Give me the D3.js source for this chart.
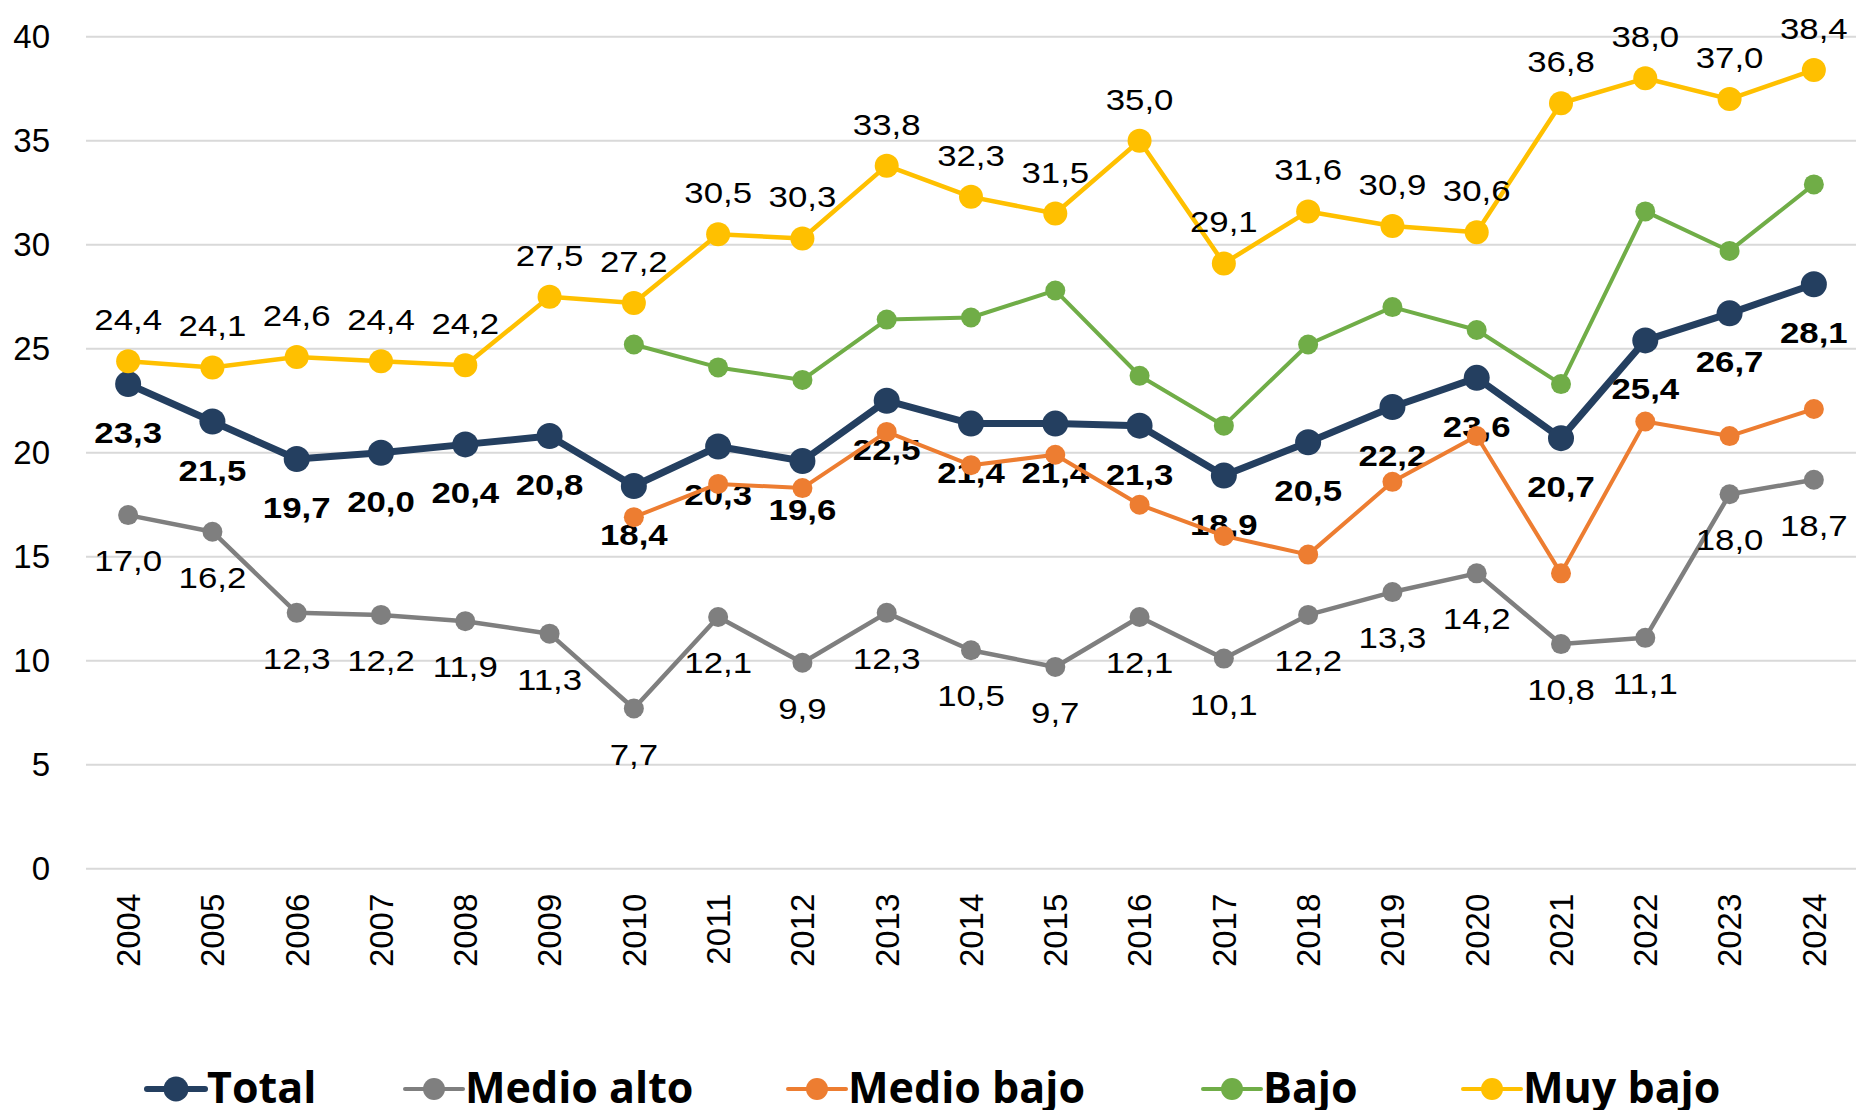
<!DOCTYPE html>
<html>
<head>
<meta charset="utf-8">
<title>Series por nivel</title>
<script src="https://cdn.jsdelivr.net/npm/d3@7"></script>
<style>
  body { margin: 0; background: #fff; }
  svg { display: block; }
</style>
</head>
<body>
<div id="chart"></div>
<script>
// data
var years = [2004, 2005, 2006, 2007, 2008, 2009, 2010, 2011, 2012, 2013, 2014,
             2015, 2016, 2017, 2018, 2019, 2020, 2021, 2022, 2023, 2024];
var total = [23.3, 21.5, 19.7, 20.0, 20.4, 20.8, 18.4, 20.3, 19.6, 22.5, 21.4,
             21.4, 21.3, 18.9, 20.5, 22.2, 23.6, 20.7, 25.4, 26.7, 28.1];
var medioAlto = [17.0, 16.2, 12.3, 12.2, 11.9, 11.3, 7.7, 12.1, 9.9, 12.3, 10.5,
                 9.7, 12.1, 10.1, 12.2, 13.3, 14.2, 10.8, 11.1, 18.0, 18.7];
var medioBajo = [null, null, null, null, null, null, 16.9, 18.5, 18.3, 21.0, 19.4,
                 19.9, 17.5, 16.0, 15.1, 18.6, 20.8, 14.2, 21.5, 20.8, 22.1];
var bajo = [null, null, null, null, null, null, 25.2, 24.1, 23.5, 26.4, 26.5,
            27.8, 23.7, 21.3, 25.2, 27.0, 25.9, 23.3, 31.6, 29.7, 32.9];
var muyBajo = [24.4, 24.1, 24.6, 24.4, 24.2, 27.5, 27.2, 30.5, 30.3, 33.8, 32.3,
               31.5, 35.0, 29.1, 31.6, 30.9, 30.6, 36.8, 38.0, 37.0, 38.4];
var yTicks = [0, 5, 10, 15, 20, 25, 30, 35, 40];

var W = 1856, H = 1110;
var svg = d3.select("#chart").append("svg").attr("width", W).attr("height", H);

var x = d3.scaleBand().domain(years).range([86, 1856]).padding(0);
var cx = function(i) { return x(years[i]) + x.bandwidth() / 2; };
var y = d3.scaleLinear().domain([0, 40]).range([868.7, 36.7]);

var fmt = function(v) { return d3.format(".1f")(v).replace(".", ","); };

// gridlines
svg.append("g").selectAll("line")
  .data(yTicks).enter().append("line")
  .attr("x1", 86).attr("x2", 1856)
  .attr("y1", function(d) { return y(d); })
  .attr("y2", function(d) { return y(d); })
  .attr("stroke", "#d9d9d9").attr("stroke-width", 2);

// y axis labels
var ya = svg.append("g").attr("transform", "translate(86,0)")
  .call(d3.axisLeft(y).tickValues(yTicks).tickSize(0).tickPadding(36));
ya.select(".domain").remove();
ya.selectAll("text")
  .attr("font-family", "Liberation Sans, Arial, sans-serif")
  .attr("font-size", 33).attr("fill", "#000");

// x axis labels (rotated)
var xa = svg.append("g").attr("transform", "translate(0," + y(0) + ")")
  .call(d3.axisBottom(x).tickSize(0));
xa.select(".domain").remove();
xa.selectAll("text")
  .attr("font-family", "Liberation Sans, Arial, sans-serif")
  .attr("font-size", 33).attr("fill", "#000")
  .attr("text-anchor", "end")
  .attr("transform", "rotate(-90)")
  .attr("x", -25).attr("y", 0).attr("dy", "0.36em");

var series = [
  { name: "Total", values: total, color: "#243f60", width: 7, r: 13,
    label: "below", dy: 59, bold: true },
  { name: "Medio alto", values: medioAlto, color: "#7f7f7f", width: 4.5, r: 10,
    label: "below", dy: 56, bold: false },
  { name: "Medio bajo", values: medioBajo, color: "#ed7d31", width: 4, r: 10,
    label: null },
  { name: "Bajo", values: bajo, color: "#70ad47", width: 4, r: 10,
    label: null },
  { name: "Muy bajo", values: muyBajo, color: "#ffc000", width: 4.5, r: 12,
    label: "above", dy: -31, bold: false }
];

var line = d3.line()
  .defined(function(d) { return d != null; })
  .x(function(d, i) { return cx(i); })
  .y(function(d) { return y(d); });

series.forEach(function(s) {
  var g = svg.append("g");
  g.append("path")
    .attr("d", line(s.values))
    .attr("fill", "none")
    .attr("stroke", s.color)
    .attr("stroke-width", s.width)
    .attr("stroke-linejoin", "round");
  var pts = s.values.map(function(v, i) { return { v: v, i: i }; })
    .filter(function(d) { return d.v != null; });
  g.selectAll("circle").data(pts).enter().append("circle")
    .attr("cx", function(d) { return cx(d.i); })
    .attr("cy", function(d) { return y(d.v); })
    .attr("r", s.r)
    .attr("fill", s.color);
  if (s.label) {
    g.selectAll("text").data(pts).enter().append("text")
      .attr("transform", function(d) {
        return "translate(" + cx(d.i) + "," + (y(d.v) + s.dy) + ") scale(1.16,1)";
      })
      .attr("text-anchor", "middle")
      .attr("font-family", "Liberation Sans, Arial, sans-serif")
      .attr("font-size", 30)
      .attr("font-weight", s.bold ? "bold" : "normal")
      .attr("fill", "#000")
      .text(function(d) { return fmt(d.v); });
  }
});

// legend
var legendX = [147, 405, 788, 1203, 1463];
var lg = svg.append("g").attr("transform", "translate(0,1089)");
series.forEach(function(s, k) {
  var it = lg.append("g").attr("transform", "translate(" + legendX[k] + ",0)");
  it.append("line").attr("x1", 0).attr("x2", 58)
    .attr("stroke", s.color).attr("stroke-width", k === 0 ? 6 : 4)
    .attr("stroke-linecap", "round");
  it.append("circle").attr("cx", 29).attr("r", k === 0 ? 12.5 : 11)
    .attr("fill", s.color);
  it.append("text").attr("x", 60).attr("y", 14)
    .attr("font-family", "Open Sans, sans-serif")
    .attr("font-weight", "bold").attr("font-size", 43)
    .attr("fill", "#000")
    .text(s.name);
});
</script>
</body>
</html>
